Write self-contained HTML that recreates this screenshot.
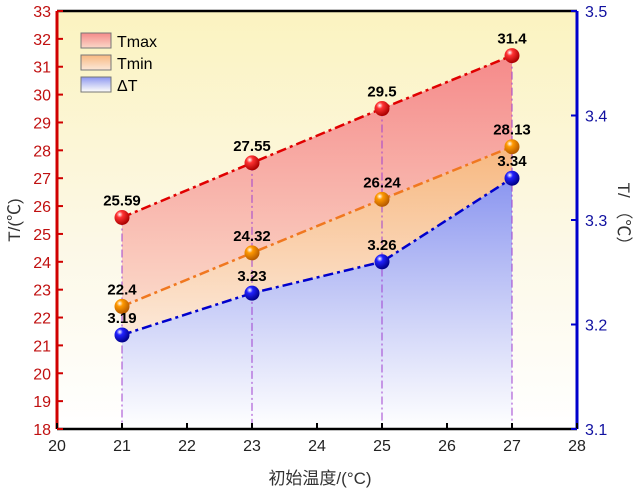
<!DOCTYPE html>
<html><head><meta charset="utf-8"><style>
body{margin:0;background:#fff;}
svg{display:block;font-family:"Liberation Sans","Noto Sans CJK SC",sans-serif;}
</style></head><body>
<svg id="c" width="641" height="493">
<defs>
<linearGradient id="bg" x1="0" y1="0" x2="0" y2="1"><stop offset="0" stop-color="#fbf3c0"/><stop offset="0.55" stop-color="#fcf8e6"/><stop offset="1" stop-color="#ffffff"/></linearGradient>
<linearGradient id="gr" x1="0" y1="0" x2="0" y2="1"><stop offset="0" stop-color="#f58a8a"/><stop offset="1" stop-color="#fbd8c8"/></linearGradient>
<linearGradient id="go" x1="0" y1="0" x2="0" y2="1"><stop offset="0" stop-color="#f7b880"/><stop offset="1" stop-color="#fce8d8"/></linearGradient>
<linearGradient id="gb" x1="0" y1="0" x2="0" y2="1"><stop offset="0" stop-color="#8a95f0"/><stop offset="1" stop-color="#ffffff" stop-opacity="0.9"/></linearGradient>
<radialGradient id="sr" cx="0.35" cy="0.3" r="0.7"><stop offset="0" stop-color="#fff"/><stop offset="0.3" stop-color="#f33"/><stop offset="1" stop-color="#a00"/></radialGradient>
<radialGradient id="so" cx="0.35" cy="0.3" r="0.7"><stop offset="0" stop-color="#fff"/><stop offset="0.3" stop-color="#f90"/><stop offset="1" stop-color="#b55a00"/></radialGradient>
<radialGradient id="sb" cx="0.35" cy="0.3" r="0.7"><stop offset="0" stop-color="#fff"/><stop offset="0.3" stop-color="#22f"/><stop offset="1" stop-color="#008"/></radialGradient>
</defs>
<rect x="57" y="11" width="520" height="418" fill="url(#bg)"/>
<g id="plot"></g>
<g id="axes"></g>
<g font-size="16">
<rect x="81" y="33" width="30" height="15" fill="url(#gr)" stroke="#777"/>
<text x="117" y="47">Tmax</text>
<rect x="81" y="55" width="30" height="15" fill="url(#go)" stroke="#777"/>
<text x="117" y="69">Tmin</text>
<rect x="81" y="77" width="30" height="15" fill="url(#gb)" stroke="#777"/>
<text x="117" y="91">ΔT</text>
</g>
<text x="320" y="484" text-anchor="middle" font-size="17" fill="#333">初始温度/(°C)</text>
<text transform="translate(20,220) rotate(-90)" text-anchor="middle" font-size="17" fill="#333">T/(℃)</text>
<text transform="translate(618,218) rotate(90)" text-anchor="middle" font-size="17" fill="#333">T/ （℃）</text>
</svg>
<script>
const categories=[21,23,25,27];
const tmax=[25.59,27.55,29.5,31.4];
const tmin=[22.4,24.32,26.24,28.13];
const dT=[3.19,3.23,3.26,3.34];
const tmaxLabels=["25.59","27.55","29.5","31.4"];
const tminLabels=["22.4","24.32","26.24","28.13"];
const dtLabels=["3.19","3.23","3.26","3.34"];
const xTicks=[20,21,22,23,24,25,26,27,28];
const yLeftTicks=[18,19,20,21,22,23,24,25,26,27,28,29,30,31,32,33];
const yRightTicks=[3.1,3.2,3.3,3.4,3.5];
const NS="http://www.w3.org/2000/svg";
const X0=57,X1=577,Y0=429,Y1=11;
const sx=v=>X0+(v-20)/8*(X1-X0);
const syL=v=>Y0-(v-18)/15*(Y0-Y1);
const syR=v=>Y0-(v-3.1)/0.4*(Y0-Y1);
const plot=document.getElementById('plot'),axes=document.getElementById('axes');
function mk(tag,at,parent){const e=document.createElementNS(NS,tag);for(const k in at)e.setAttribute(k,at[k]);parent.appendChild(e);return e;}
const pts=(arr,f)=>categories.map((c,i)=>sx(c)+','+f(arr[i])).join(' ');
const rev=(arr,f)=>categories.map((c,i)=>sx(c)+','+f(arr[i])).reverse().join(' ');
let a=mk('polygon',{points:pts(dT,syR)+' '+sx(27)+','+Y0+' '+sx(21)+','+Y0,fill:'url(#gb)'},plot);


a=mk('polygon',{points:pts(tmin,syL)+' '+rev(dT,syR),fill:'url(#go)'},plot);


a=mk('polygon',{points:pts(tmax,syL)+' '+rev(tmin,syL),fill:'url(#gr)'},plot);


categories.forEach((c,i)=>{const l=mk('line',{x1:sx(c),x2:sx(c),y1:syL(tmax[i]),y2:Y0,stroke:'#a040d0','stroke-width':1,'stroke-dasharray':'8,3,2,3'},plot);

});
const series=[[tmax,syL,'#e00000','url(#sr)',tmaxLabels,'tmax'],[tmin,syL,'#f07820','url(#so)',tminLabels,'tmin'],[dT,syR,'#0000cc','url(#sb)',dtLabels,'dt']];
series.forEach(([arr,f,col,g,labs,nm])=>{
 const l=mk('polyline',{points:pts(arr,f),fill:'none',stroke:col,'stroke-width':2.5,'stroke-dasharray':'10,4,3,4'},plot);
 
 
 categories.forEach((c,i)=>{
  const p=mk('circle',{cx:sx(c),cy:f(arr[i]),r:7.5,fill:g},plot);
  
  
  const t=mk('text',{x:sx(c),y:f(arr[i])-12,'text-anchor':'middle','font-size':15,'font-weight':'bold'},plot);
  t.textContent=labs[i];
  
  
 });
});
let ln=mk('line',{x1:X0,x2:X1,y1:Y1,y2:Y1,stroke:'#000','stroke-width':2.5},axes);


ln=mk('line',{x1:X0,x2:X1,y1:Y0,y2:Y0,stroke:'#000','stroke-width':2.5},axes);


ln=mk('line',{x1:X0,x2:X0,y1:Y1,y2:Y0,stroke:'#d00000','stroke-width':3},axes);


ln=mk('line',{x1:X1,x2:X1,y1:Y1,y2:Y0,stroke:'#0000cc','stroke-width':3},axes);


xTicks.forEach(v=>{const t=mk('line',{x1:sx(v),x2:sx(v),y1:Y0,y2:Y0-6,stroke:'#000','stroke-width':2},axes);


const s=mk('text',{x:sx(v),y:Y0+22,'text-anchor':'middle','font-size':16,fill:'#222'},axes);s.textContent=v;

});
yLeftTicks.forEach(v=>{const t=mk('line',{x1:X0,x2:X0+6,y1:syL(v),y2:syL(v),stroke:'#d00000','stroke-width':2},axes);


const s=mk('text',{x:X0-6,y:syL(v)+6,'text-anchor':'end','font-size':16,fill:'#c01010'},axes);s.textContent=v;

});
yRightTicks.forEach(v=>{const t=mk('line',{x1:X1-6,x2:X1,y1:syR(v),y2:syR(v),stroke:'#0000cc','stroke-width':2},axes);


const s=mk('text',{x:X1+8,y:syR(v)+6,'font-size':16,fill:'#1010a0'},axes);s.textContent=v.toFixed(1);

});
</script>
</body></html>
